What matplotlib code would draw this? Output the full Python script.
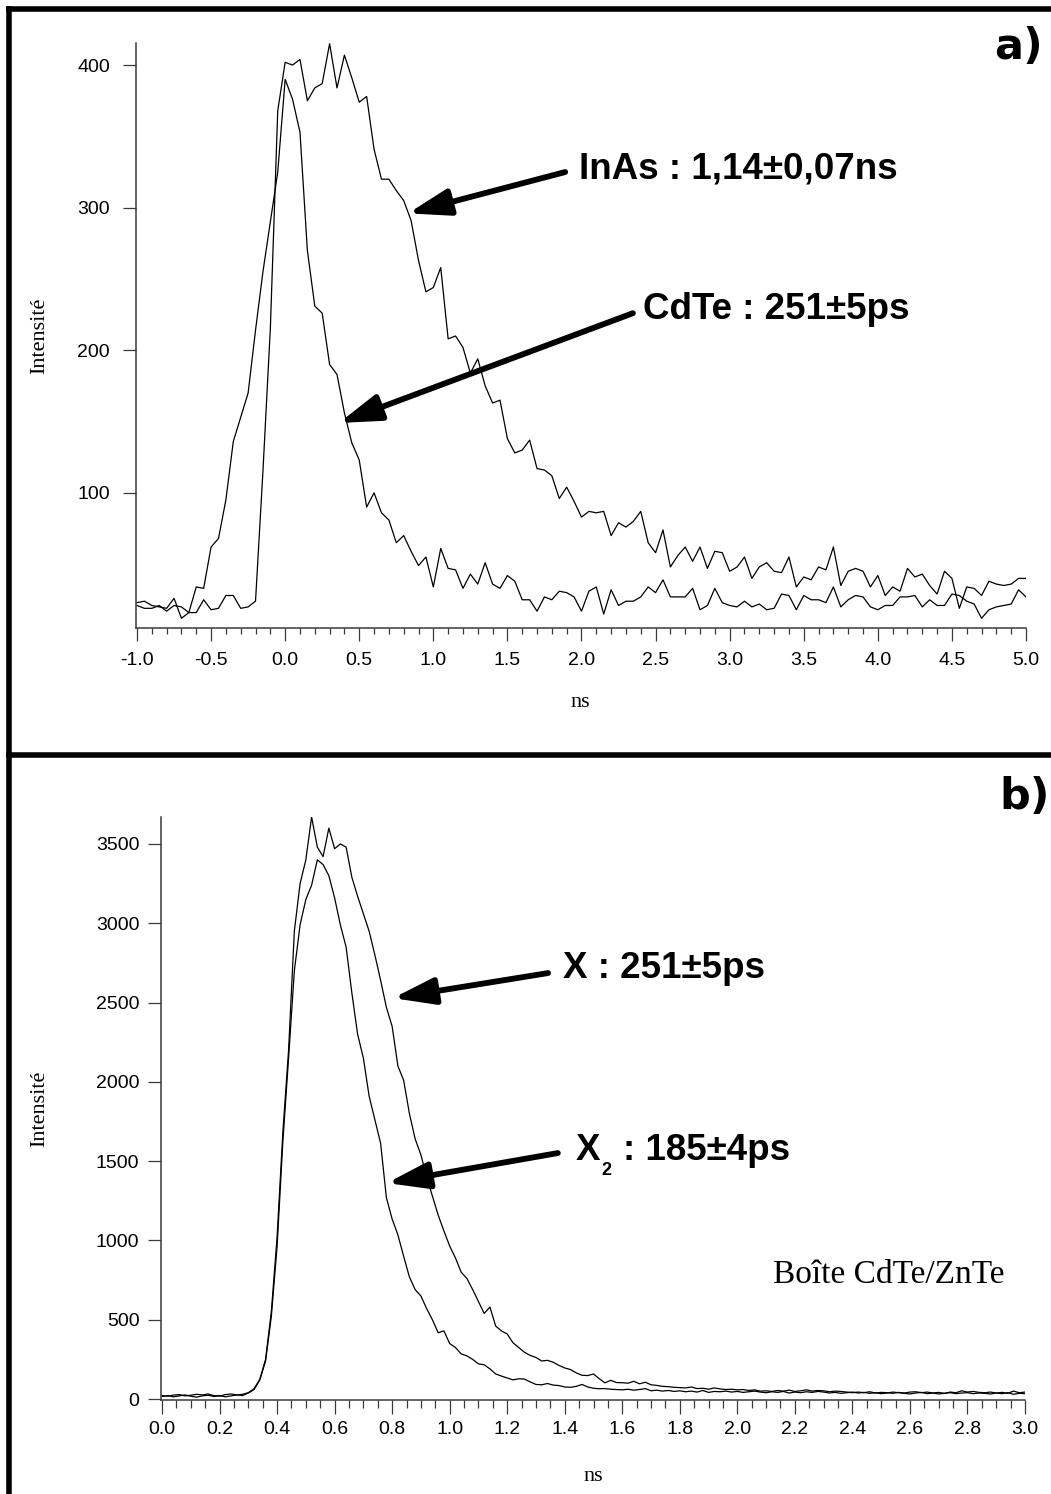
import numpy as np
import matplotlib
matplotlib.use('Agg')
import matplotlib.pyplot as plt
from matplotlib.lines import Line2D
from matplotlib.ticker import MultipleLocator

# ---- panel a : InAs vs CdTe, step 0.05 ns from -1 to 5 ns
t_a = np.linspace(-1.0, 5.0, 121)
inas = [23, 24, 21, 20, 19, 26, 12, 16, 16, 25, 18, 19, 28, 28, 19, 20, 24,
        115, 215, 368, 402, 400, 404, 375, 384, 387, 415, 384, 407, 391, 374,
        378, 341, 320, 320, 312, 305, 291, 263, 241, 244, 258, 208, 210, 202,
        184, 194, 175, 163, 165,
        138, 128, 130, 137, 117, 116, 112, 96, 104, 94,
        83, 87, 86, 87, 70, 79, 76, 80, 87, 65,
        58, 74, 48, 56, 62, 52, 62, 47, 59, 58,
        45, 48, 55, 40, 48, 51, 45, 44, 55, 34,
        41, 39, 48, 46, 62, 35, 45, 47, 45, 34,
        42, 28, 34, 31, 47, 41, 43, 35, 29, 45,
        40, 19, 34, 33, 28, 38, 36, 35, 36, 40, 40]
cdte = [21, 19, 19, 21, 17, 21, 20, 16,
        34, 33, 62, 68, 95, 136, 153, 170, 214, 255, 290, 325, 390,
        376, 353, 270, 231, 226, 190, 183, 156, 135, 123, 90, 100, 86, 81,
        65, 70, 59, 49, 55, 34, 61, 47, 46, 33, 43, 36, 51, 36, 33,
        42, 38, 25, 25, 17, 27, 25, 31, 30, 27,
        17, 31, 34, 15, 32, 21, 24, 24, 27, 34,
        30, 39, 27, 27, 27, 33, 18, 21, 33, 23,
        21, 20, 24, 20, 22, 18, 19, 29, 28, 18,
        28, 25, 25, 23, 34, 20, 25, 28, 27, 20,
        18, 21, 21, 27, 27, 28, 20, 25, 21, 21,
        29, 28, 24, 22, 12, 18, 20, 21, 22, 32, 27]

# ---- panel b : X and X2 of a CdTe/ZnTe dot, step 0.02 ns from 0 to 3 ns
t_b = np.linspace(0.0, 3.0, 151)
x_line = [22, 18, 25, 28, 20, 24, 30, 26, 32, 22,
          18, 28, 32, 26, 30, 40, 65, 125, 250, 550,
          1020, 1680, 2200, 2950, 3250, 3400, 3670, 3480, 3420, 3600,
          3470, 3500, 3480, 3290, 3170, 3060, 2950, 2800, 2640, 2470,
          2350, 2100, 2010, 1800, 1640, 1540, 1400, 1280, 1160, 1060,
          965, 890, 800, 760, 690, 615, 540, 580, 460, 430,
          410, 355, 325, 295, 275, 262, 240, 244, 232, 212,
          196, 186, 165, 150, 148, 158, 128, 102, 118, 104,
          103, 100, 112, 96, 106, 90, 86, 80, 78, 74,
          72, 70, 76, 66, 68, 62, 70, 64, 60, 62,
          58, 60, 54, 58, 50, 52, 48, 54, 50, 56,
          48, 52, 58, 50, 54, 52, 46, 50, 48, 44,
          40, 44, 40, 46, 38, 42, 40, 36, 42, 38,
          44, 46, 40, 44, 38, 42, 36, 44, 40, 52,
          44, 48, 42, 40, 44, 38, 42, 36, 50, 40,
          44]
x2_line = [16, 22, 14, 20, 26, 18, 12, 20, 24, 16,
           22, 14, 20, 26, 22, 38, 60, 120, 240, 520,
           960, 1620, 2150, 2700, 2990, 3150, 3240, 3400, 3370, 3300,
           3160, 2990, 2850, 2560, 2300, 2150, 1910, 1760, 1612, 1270,
           1135, 1035, 900, 770, 690, 650, 570, 500, 418, 430,
           350, 325, 285, 272, 250, 222, 216, 190, 158, 145,
           133, 121, 128, 126, 108, 92, 90, 98, 88, 85,
           76, 74, 80, 92, 76, 68, 65, 66, 62, 60,
           58, 62, 56, 60, 66, 52, 56, 50, 54, 48,
           52, 46, 50, 44, 54, 42, 48, 46, 50, 44,
           48, 42, 46, 50, 44, 40, 46, 42, 48, 38,
           44, 40, 46, 42, 48, 44, 38, 42, 36, 40,
           44, 38, 42, 36, 40, 34, 38, 44, 40, 36,
           32, 38, 42, 34, 38, 32, 36, 40, 34, 38,
           40, 34, 38, 36, 32, 38, 34, 40, 30, 36,
           34]

W, H = 1051, 1494
spine_col = '#3a3a3a'
bold_font = 'Liberation Sans'
serif_font = 'Liberation Serif'
narrow_font = ['Liberation Sans Narrow', 'DejaVu Sans Condensed', 'Liberation Sans']

fig = plt.figure(figsize=(W / 100, H / 100), dpi=100)


def px_axes(l, r, t, b):
    return fig.add_axes([l / W, 1 - b / H, (r - l) / W, (b - t) / H])


def style_axes(ax):
    for s in ['top', 'right']:
        ax.spines[s].set_visible(False)
    for s in ['left', 'bottom']:
        ax.spines[s].set_color(spine_col)
        ax.spines[s].set_linewidth(1.1)
    ax.tick_params(which='both', direction='out', color=spine_col, width=0.9)


# ---------------- panel a
ax1 = px_axes(135.5, 1026, 43, 628)
style_axes(ax1)
ax1.plot(t_a, inas, color='black', lw=0.9)
ax1.plot(t_a, cdte, color='black', lw=0.9)
ax1.set_xlim(-1.01, 5.0)
ax1.set_ylim(5.2, 415.5)
ax1.xaxis.set_minor_locator(MultipleLocator(0.1))
ax1.yaxis.set_major_locator(MultipleLocator(100))
ax1.set_xticks(np.arange(-1.0, 5.01, 0.5))
ax1.set_xticklabels(['%.1f' % v for v in np.arange(-1.0, 5.01, 0.5)])
ax1.tick_params(axis='x', which='major', length=9, pad=8, labelsize=14,
                labelfontfamily=narrow_font)
ax1.tick_params(axis='x', which='minor', length=4.5)
ax1.tick_params(axis='y', which='major', length=9.5, pad=9, labelsize=14,
                labelfontfamily=narrow_font)
ax1.set_ylabel('Intensité', fontfamily=serif_font, fontsize=16)
ax1.yaxis.set_label_coords(-0.0971, 0.5)
ax1.set_xlabel('ns', fontfamily=serif_font, fontsize=16)
ax1.xaxis.set_label_coords(0.5, -0.111)

arrow_kw = dict(arrowstyle='-|>,head_length=2.5,head_width=0.8', lw=4.2,
                color='black', shrinkA=0, shrinkB=0, mutation_scale=10)
ax1.annotate('', xy=(0.829, 296), xytext=(1.89, 325), arrowprops=arrow_kw)
ax1.annotate('', xy=(0.363, 149), xytext=(2.347, 226), arrowprops=arrow_kw)
ax1.text(1.986, 320.5, 'InAs : 1,14±0,07ns', fontfamily=bold_font,
         fontweight='bold', fontsize=26.5, va='baseline', ha='left')
ax1.text(2.415, 221.7, 'CdTe : 251±5ps', fontfamily=bold_font,
         fontweight='bold', fontsize=26.5, va='baseline', ha='left')

# ---------------- panel b
ax2 = px_axes(161, 1025, 817, 1400)
style_axes(ax2)
ax2.plot(t_b, x_line, color='black', lw=0.9)
ax2.plot(t_b, x2_line, color='black', lw=0.9)
ax2.set_xlim(-0.0035, 3.0)
ax2.set_ylim(-6, 3670)
ax2.set_xticks(np.arange(0.0, 3.01, 0.2))
ax2.set_xticklabels(['%.1f' % v for v in np.arange(0.0, 3.01, 0.2)])
ax2.xaxis.set_minor_locator(MultipleLocator(0.05))
ax2.yaxis.set_major_locator(MultipleLocator(500))
ax2.tick_params(axis='x', which='major', length=10, pad=5, labelsize=14,
                labelfontfamily=bold_font)
ax2.tick_params(axis='x', which='minor', length=5.5)
ax2.tick_params(axis='y', which='major', length=9.5, pad=6, labelsize=14,
                labelfontfamily=bold_font)
ax2.set_ylabel('Intensité', fontfamily=serif_font, fontsize=16)
ax2.yaxis.set_label_coords(-0.1297, 0.5)
ax2.set_xlabel('ns', fontfamily=serif_font, fontsize=16)
ax2.xaxis.set_label_coords(0.5, -0.115)

ax2.annotate('', xy=(0.803, 2528), xytext=(1.342, 2686), arrowprops=arrow_kw)
ax2.annotate('', xy=(0.782, 1362), xytext=(1.376, 1551), arrowprops=arrow_kw)
ax2.text(1.394, 2654, 'X : 251±5ps', fontfamily=bold_font, fontweight='bold',
         fontsize=26.5, va='baseline', ha='left')
ax2.text(1.439, 1507, 'X', fontfamily=bold_font, fontweight='bold',
         fontsize=26.5, va='baseline', ha='left')
ax2.text(1.526, 1412, '2', fontfamily=bold_font, fontweight='bold',
         fontsize=13, va='baseline', ha='left')
ax2.text(1.602, 1507, ': 185±4ps', fontfamily=bold_font, fontweight='bold',
         fontsize=26.5, va='baseline', ha='left')
ax2.text(2.124, 731, 'Boîte CdTe/ZnTe', fontfamily=serif_font, fontsize=24,
         va='baseline', ha='left')

# ---------------- panel letters and frame
fig.text(1019 / W, 1 - 47 / H, 'a)', fontfamily='DejaVu Sans',
         fontweight='bold', fontsize=31, ha='center', va='center')
fig.text(1025 / W, 1 - 797 / H, 'b)', fontfamily='DejaVu Sans',
         fontweight='bold', fontsize=31, ha='center', va='center')

fx = 8.5 / W
frame_kw = dict(transform=fig.transFigure, color='black', lw=4,
                solid_capstyle='projecting')
fig.add_artist(Line2D([fx, fx], [1 - 8.5 / H, 0], **frame_kw))
fig.add_artist(Line2D([fx, 1], [1 - 8.5 / H, 1 - 8.5 / H], **frame_kw))
fig.add_artist(Line2D([fx, 1], [1 - 755 / H, 1 - 755 / H], **frame_kw))

fig.savefig('out.png', dpi=100)
